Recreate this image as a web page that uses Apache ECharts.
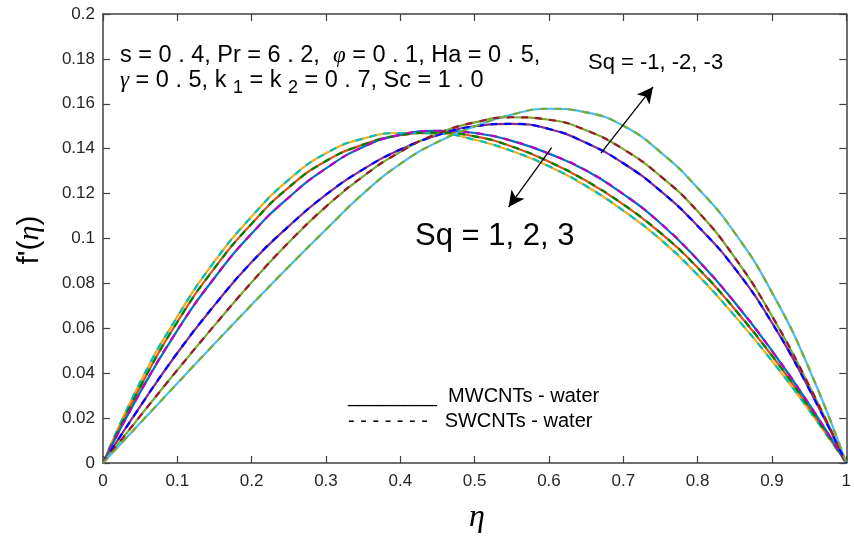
<!DOCTYPE html>
<html>
<head>
<meta charset="utf-8">
<script src="https://cdn.jsdelivr.net/npm/echarts@6/dist/echarts.min.js"></script>
<style>
html,body{margin:0;padding:0;background:#fff;}
#chart{width:854px;height:539px;}
</style>
</head>
<body>
<div id="chart"></div>
<script>
// eta grid
const eta = [0,0.05,0.1,0.15,0.2,0.25,0.3,0.35,0.4,0.45,0.5,0.55,0.6,0.65,0.7,0.75,0.8,0.85,0.9,0.95,1];
// f'(eta) (MWCNT and SWCNT curves coincide)
const sqPos3 = [0,0.036,0.0652,0.0898,0.1098,0.1262,0.138,0.1445,0.147,0.1468,0.144,0.139,0.1322,0.1234,0.1124,0.0996,0.0838,0.0655,0.0455,0.0235,0];
const sqPos2 = [0,0.0338,0.0628,0.0868,0.1066,0.1228,0.1345,0.1418,0.146,0.1472,0.1455,0.141,0.1342,0.1257,0.1152,0.1025,0.087,0.0685,0.0478,0.0248,0];
const sqPos1 = [0,0.0315,0.0591,0.0825,0.1022,0.1183,0.1312,0.1408,0.1462,0.148,0.147,0.1435,0.1378,0.1303,0.1198,0.1068,0.0905,0.0715,0.05,0.0262,0];
const sqNeg1 = [0,0.0252,0.049,0.0703,0.0895,0.1055,0.1195,0.1308,0.1396,0.146,0.15,0.1511,0.1488,0.1426,0.1335,0.1212,0.1056,0.0867,0.0625,0.033,0];
const sqNeg2 = [0,0.0209,0.0414,0.0613,0.0805,0.0983,0.1142,0.1277,0.1386,0.1467,0.1517,0.154,0.1529,0.1482,0.1398,0.1278,0.1121,0.0915,0.0655,0.0345,0];
const sqNeg3 = [0,0.0178,0.0355,0.0531,0.0705,0.0875,0.104,0.12,0.1332,0.143,0.1499,0.1552,0.1578,0.1562,0.1502,0.1385,0.1225,0.1025,0.076,0.042,0];

const xTicks = [0,0.1,0.2,0.3,0.4,0.5,0.6,0.7,0.8,0.9,1];
const yTicks = [0,0.02,0.04,0.06,0.08,0.1,0.12,0.14,0.16,0.18,0.2];

// arrow annotations [start, end] in data coordinates
const arrowDown = [[0.6036,0.1405],[0.5457,0.114]];
const arrowUp = [[0.670,0.138],[0.740,0.1675]];

const pairs = [
  {name:'Sq=3', data:sqPos3, solid:'#EDB120', dash:'#00BFBF'},
  {name:'Sq=2', data:sqPos2, solid:'#D95319', dash:'#008000'},
  {name:'Sq=1', data:sqPos1, solid:'#0072BD', dash:'#BF00BF'},
  {name:'Sq=-1', data:sqNeg1, solid:'#7E2F8E', dash:'#0000FF'},
  {name:'Sq=-2', data:sqNeg2, solid:'#77AC30', dash:'#A2142F'},
  {name:'Sq=-3', data:sqNeg3, solid:'#4DBEEE', dash:'#77AC30'}
];

const toPts = arr => eta.map((x,i)=>[x,arr[i]]);
const series = [];
pairs.forEach(p=>{
  series.push({type:'line', name:p.name+' MWCNTs', data:toPts(p.data), smooth:0.5, symbol:'none',
    lineStyle:{color:p.solid, width:2.2, type:'solid'}, z:2});
});
pairs.forEach(p=>{
  series.push({type:'line', name:p.name+' SWCNTs', data:toPts(p.data), smooth:0.5, symbol:'none',
    lineStyle:{color:p.dash, width:2.2, type:[7,7]}, z:3});
});
series.push({type:'line', data:[], symbol:'none', silent:true,
  markLine:{silent:true, symbol:['none','arrow'], symbolSize:[12,16], label:{show:false},
    lineStyle:{color:'#000', width:1.3, type:'solid'},
    data:[
      [{coord:arrowDown[0]},{coord:arrowDown[1]}],
      [{coord:arrowUp[0]},{coord:arrowUp[1]}]
    ]}});

const axCol = '#404040';
const font = 'Liberation Sans, Arial, Helvetica, sans-serif';
const chart = echarts.init(document.getElementById('chart'));
chart.setOption({
  animation:false,
  backgroundColor:'#fff',
  grid:{left:103, right:3, top:14, bottom:76, containLabel:false},
  xAxis:[
    {type:'value', min:0, max:1, interval:0.1, position:'bottom',
     axisLine:{show:true, onZero:false, lineStyle:{color:axCol, width:1.5}},
     axisTick:{show:true, inside:true, length:7, lineStyle:{color:axCol, width:1.2}},
     axisLabel:{color:'#262626', fontSize:17, fontFamily:font, margin:10,
       formatter:v=>{const t=xTicks.find(a=>Math.abs(a-v)<1e-9); return t===undefined?'':String(t);}},
     splitLine:{show:false}},
    {type:'value', min:0, max:1, interval:0.1, position:'top',
     axisLine:{show:true, onZero:false, lineStyle:{color:axCol, width:1.5}},
     axisTick:{show:true, inside:true, length:7, lineStyle:{color:axCol, width:1.2}},
     axisLabel:{show:false}, splitLine:{show:false}}
  ],
  yAxis:[
    {type:'value', min:0, max:0.2, interval:0.02, position:'left',
     axisLine:{show:true, onZero:false, lineStyle:{color:axCol, width:1.5}},
     axisTick:{show:true, inside:true, length:7, lineStyle:{color:axCol, width:1.2}},
     axisLabel:{color:'#262626', fontSize:17, fontFamily:font, margin:8,
       formatter:v=>{const t=yTicks.find(a=>Math.abs(a-v)<1e-9); return t===undefined?'':String(t);}},
     splitLine:{show:false}},
    {type:'value', min:0, max:0.2, interval:0.02, position:'right',
     axisLine:{show:true, onZero:false, lineStyle:{color:axCol, width:1.5}},
     axisTick:{show:true, inside:true, length:7, lineStyle:{color:axCol, width:1.2}},
     axisLabel:{show:false}, splitLine:{show:false}}
  ],
  series:series,
  graphic:[
    {type:'text', left:120, top:44, z:10, style:{
      text:'s = 0 . 4, Pr = 6 . 2,  {it|φ} = 0 . 1, Ha = 0 . 5,',
      font:'23.5px '+font, fill:'#000',
      rich:{it:{fontFamily:'Liberation Serif, serif', fontStyle:'italic', fontSize:23}}
    }},
    {type:'text', left:120, top:69, z:10, style:{
      text:'{it|γ} = 0 . 5, k {sub|1} = k {sub|2} = 0 . 7, Sc = 1 . 0',
      font:'23.5px '+font, fill:'#000',
      rich:{it:{fontFamily:'Liberation Serif, serif', fontStyle:'italic', fontSize:23},
            sub:{fontSize:18, fontFamily:font, padding:[14,0,0,0]}}
    }},
    {type:'text', left:588, top:52, z:10, style:{text:'Sq = -1, -2, -3', font:'22px '+font, fill:'#000'}},
    {type:'text', left:415, top:221, z:10, style:{text:'Sq = 1, 2, 3', font:'31px '+font, fill:'#000'}},
    {type:'text', left:348, top:386, z:10, style:{text:'________  MWCNTs - water', font:'20px '+font, fill:'#000'}},
    {type:'text', left:348, top:411, z:10, style:{text:'- - - - - - -   SWCNTs - water', font:'20px '+font, fill:'#000'}},
    {type:'text', x:30, y:240, rotation:Math.PI/2, z:10, style:{
      text:"f'({e|η})", font:'30px '+font, fill:'#000', align:'center', verticalAlign:'middle',
      rich:{e:{fontFamily:'Liberation Serif, serif', fontStyle:'italic', fontSize:30}}
    }},
    {type:'text', x:477, y:518, z:10, style:{
      text:'η', font:'italic 32px Liberation Serif, serif', fill:'#000', align:'center', verticalAlign:'middle'
    }}
  ]
});
</script>
</body>
</html>
